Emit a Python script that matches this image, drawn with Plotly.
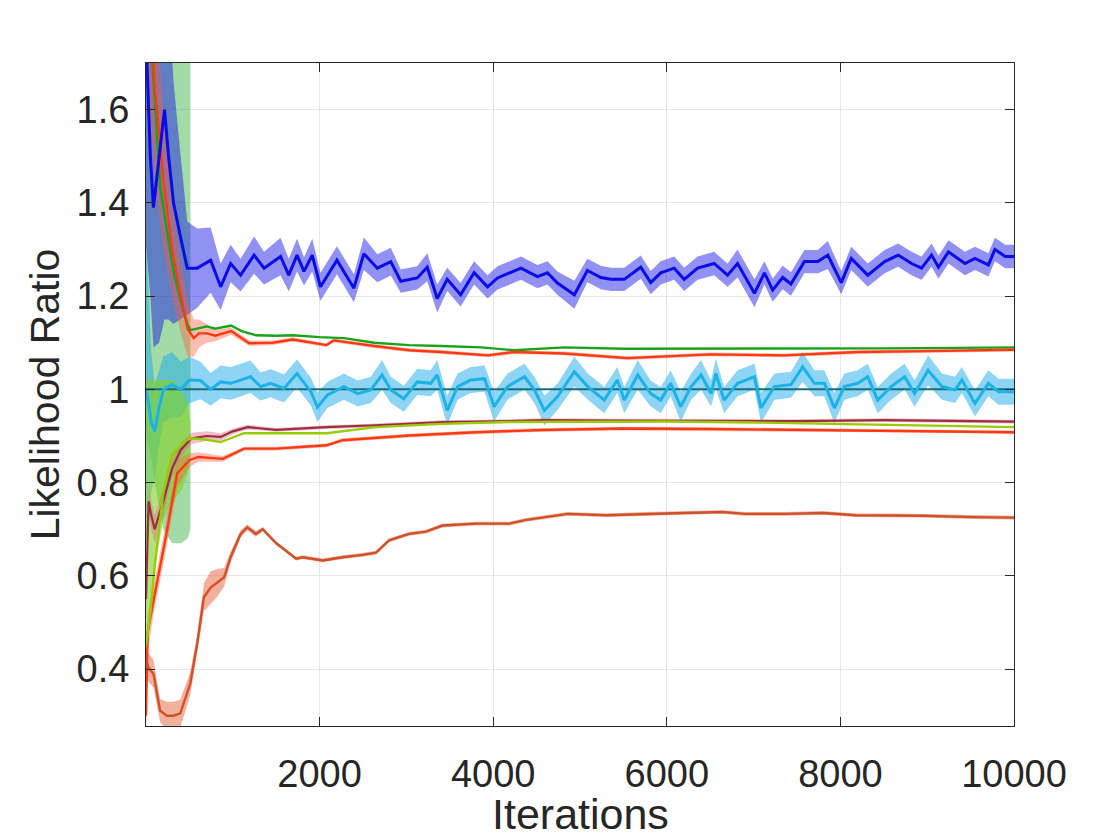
import plotly.graph_objects as go

# ---------------- data ----------------
blue_x = [0, 15, 50, 86, 150, 213, 260, 317, 394, 475, 590, 745, 860, 975, 1090, 1245, 1360, 1550, 1645, 1740,
          1820, 1915, 2010, 2200, 2395, 2510, 2665, 2820, 2935, 3125, 3240, 3355, 3470, 3625, 3780, 3935, 4050,
          4320, 4510, 4625, 4740, 4935, 5085, 5240, 5355, 5510, 5700, 5815, 5930, 6085, 6200, 6355, 6545, 6700,
          6815, 7010, 7125, 7220, 7335, 7430, 7585, 7740, 7855, 8010, 8125, 8315, 8510, 8665, 8820, 8935, 9050,
          9130, 9245, 9435, 9550, 9705, 9780, 9900, 10000]
blue_y = [1.76, 1.67, 1.50, 1.39, 1.50, 1.60, 1.50, 1.40, 1.33, 1.26, 1.26, 1.277, 1.22, 1.27, 1.245, 1.288, 1.26,
          1.285, 1.245, 1.288, 1.253, 1.288, 1.22, 1.277, 1.217, 1.291, 1.26, 1.274, 1.232, 1.239, 1.262, 1.195,
          1.236, 1.203, 1.25, 1.22, 1.239, 1.26, 1.242, 1.25, 1.228, 1.203, 1.255, 1.24, 1.236, 1.236, 1.262,
          1.229, 1.25, 1.26, 1.236, 1.26, 1.27, 1.245, 1.27, 1.206, 1.25, 1.213, 1.24, 1.226, 1.274, 1.274,
          1.288, 1.229, 1.281, 1.245, 1.274, 1.288, 1.27, 1.26, 1.288, 1.262, 1.295, 1.27, 1.281, 1.267, 1.30,
          1.285, 1.285]
blue_sd = [0.45, 0.40, 0.30, 0.30, 0.40, 0.45, 0.35, 0.26, 0.18, 0.10, 0.085, 0.07, 0.05, 0.04,
           0.035, 0.04, 0.035, 0.04, 0.035, 0.035, 0.03, 0.035, 0.03,
           0.03, 0.03, 0.035, 0.03, 0.03, 0.025, 0.025, 0.03, 0.03, 0.025,
           0.025, 0.025, 0.025, 0.025, 0.025, 0.025, 0.025, 0.025, 0.03, 0.025,
           0.025, 0.025, 0.025, 0.025, 0.025, 0.025, 0.025, 0.025, 0.025, 0.025,
           0.025, 0.03, 0.03, 0.025, 0.025, 0.025, 0.025, 0.025, 0.025, 0.03,
           0.025, 0.025, 0.025, 0.025, 0.025, 0.025, 0.025, 0.025, 0.025, 0.025,
           0.025, 0.025, 0.025, 0.025, 0.025, 0.025]

cyan_x = [0, 30, 60, 100, 150, 200, 300, 400, 500, 628, 745, 860, 975, 1090, 1205, 1320, 1435, 1590, 1740,
          1900, 1975, 2090, 2280, 2440, 2590, 2720, 2820, 2970, 3125, 3280, 3355, 3470, 3590, 3740, 3900, 4010,
          4165, 4360, 4475, 4590, 4740, 4935, 5090, 5280, 5430, 5510, 5665, 5815, 5930, 6045, 6160, 6280, 6395,
          6510, 6565, 6660, 6815, 7010, 7085, 7240, 7430, 7565, 7700, 7815, 7930, 8045, 8200, 8315, 8430, 8585,
          8740, 8855, 9010, 9170, 9320, 9400, 9550, 9705, 9820, 10000]
cyan_y = [1.00, 0.97, 0.93, 0.91, 0.96, 1.00, 1.01, 1.00, 1.02, 1.019, 1.0, 1.016, 1.013, 1.02, 1.027, 1.006,
          1.013, 1.002, 1.034, 0.995, 0.962, 0.988, 1.006, 0.991, 0.999, 1.031, 0.999, 0.98, 1.016, 1.013, 1.031,
          0.955, 1.006, 1.02, 1.023, 0.963, 1.006, 1.027, 0.999, 0.955, 0.984, 1.038, 1.006, 0.977, 1.02, 0.977,
          1.031, 0.991, 0.977, 1.013, 0.963, 1.006, 1.031, 0.991, 1.034, 0.977, 1.013, 1.027, 0.96, 1.006, 1.01,
          1.048, 1.013, 1.013, 0.96, 1.006, 1.013, 1.027, 0.977, 1.006, 1.027, 0.991, 1.041, 1.006, 0.999, 1.02,
          0.97, 1.013, 0.995, 0.995]
cyan_sd = [0.33, 0.25, 0.15, 0.10, 0.08, 0.07, 0.07, 0.06, 0.05,
           0.04, 0.035, 0.035, 0.035, 0.035, 0.035, 0.03, 0.03, 0.03, 0.03,
           0.03, 0.032, 0.028, 0.028, 0.028, 0.028, 0.032, 0.028, 0.028, 0.028,
           0.028, 0.032, 0.032, 0.028, 0.028, 0.028, 0.032, 0.028, 0.028, 0.028,
           0.032, 0.028, 0.032, 0.028, 0.028, 0.028, 0.028, 0.032, 0.028, 0.028,
           0.028, 0.032, 0.028, 0.032, 0.028, 0.032, 0.028, 0.028, 0.028, 0.032,
           0.028, 0.028, 0.032, 0.028, 0.028, 0.032, 0.028, 0.028, 0.028, 0.028,
           0.028, 0.028, 0.028, 0.032, 0.028, 0.028, 0.028, 0.028, 0.028, 0.028, 0.028]

teal_x = [0, 10000]
teal_y = [1.0, 1.0]

green_x = [0, 40, 100, 167, 250, 320, 400, 475, 513, 600, 700, 800, 980, 1100, 1270, 1500, 1690, 2000, 2280,
           2630, 3030, 3400, 3860, 4240, 4820, 5500, 6500, 7500, 8500, 9300, 10000]
green_y = [1.95, 1.80, 1.62, 1.43, 1.33, 1.25, 1.19, 1.14, 1.127, 1.13, 1.135, 1.13, 1.137, 1.125, 1.116, 1.115,
           1.116, 1.112, 1.11, 1.10, 1.095, 1.093, 1.09, 1.084, 1.09, 1.087, 1.087, 1.088, 1.088, 1.089, 1.09]
gband_x = [0, 60, 120, 200, 300, 400, 480, 512]
gband_hi = [2.6, 2.4, 2.2, 2.0, 1.9, 1.85, 1.8, 1.75]
gband_lo = [0.90, 0.85, 0.78, 0.70, 0.67, 0.67, 0.68, 0.70]

red1_x = [0, 40, 100, 200, 300, 400, 480, 550, 610, 700, 800, 980, 1190, 1460, 1690, 2080, 2160, 2630, 3030,
          3400, 3940, 4240, 4820, 5546, 6500, 7350, 8200, 9000, 10000]
red1_y = [2.0, 1.85, 1.65, 1.45, 1.30, 1.20, 1.13, 1.11, 1.12, 1.12, 1.115, 1.125, 1.099, 1.10, 1.107, 1.095,
          1.105, 1.093, 1.084, 1.08, 1.073, 1.08, 1.077, 1.067, 1.075, 1.073, 1.08, 1.082, 1.085]
red1_sd = [0.3, 0.25, 0.2, 0.15, 0.1, 0.08, 0.06, 0.04, 0.03, 0.02, 0.012, 0.008, 0.006, 0.005, 0.005, 0.004,
           0.004, 0.004, 0.004, 0.004, 0.004, 0.004, 0.004, 0.004, 0.004, 0.004, 0.004, 0.004, 0.004]

red2_x = [0, 20, 100, 225, 360, 500, 600, 885, 1130, 1500, 2080, 2265, 3030, 3800, 4570, 5500, 6500, 7500,
          8500, 9500, 10000]
red2_y = [0.30, 0.48, 0.56, 0.68, 0.82, 0.848, 0.855, 0.851, 0.873, 0.873, 0.88, 0.891, 0.901, 0.908, 0.913,
          0.916, 0.915, 0.913, 0.912, 0.91, 0.908]
red2_sd = [0.05, 0.04, 0.03, 0.03, 0.03, 0.015, 0.01, 0.006, 0.004, 0.004, 0.004, 0.004, 0.004, 0.004, 0.004,
           0.004, 0.004, 0.004, 0.004, 0.004, 0.004]

brown_x = [0, 30, 60, 100, 200, 300, 400, 525, 700, 860, 1000, 1170, 1500, 2080, 2650, 3415, 4185, 4570, 5500,
           6500, 7500, 8500, 9300, 10000]
brown_y = [0.55, 0.76, 0.73, 0.70, 0.76, 0.83, 0.87, 0.895, 0.90, 0.898, 0.91, 0.919, 0.913, 0.919, 0.923, 0.93,
           0.932, 0.934, 0.933, 0.933, 0.932, 0.934, 0.933, 0.931]
brown_sd = [0.03, 0.03, 0.03, 0.03, 0.03, 0.02, 0.015, 0.012, 0.01, 0.008, 0.006, 0.005, 0.004, 0.004, 0.004,
            0.004, 0.004, 0.004, 0.004, 0.004, 0.004, 0.004, 0.004, 0.004]

yg_x = [0, 50, 100, 200, 300, 450, 525, 700, 860, 1130, 1500, 2080, 2650, 3415, 4185, 5000, 6000, 7000, 8000,
        9000, 10000]
yg_y = [0.45, 0.52, 0.62, 0.78, 0.86, 0.89, 0.895, 0.892, 0.887, 0.906, 0.906, 0.906, 0.919, 0.926, 0.93, 0.931,
        0.931, 0.929, 0.926, 0.923, 0.919]
lband_x = [0, 50, 100, 200, 300, 400, 480, 515]
lband_hi = [1.02, 1.02, 1.02, 1.02, 1.02, 1.0, 0.97, 0.93]
lband_lo = [0.40, 0.50, 0.62, 0.72, 0.76, 0.78, 0.82, 0.86]

orange_x = [0, 30, 86, 163, 240, 320, 395, 510, 590, 667, 745, 820, 900, 975, 1090, 1167, 1265, 1345, 1500, 1730,
            1805, 2035, 2265, 2495, 2650, 2800, 3030, 3225, 3415, 3800, 4185, 4380, 4860, 5300, 5750, 6200, 6640,
            6900, 7370, 7800, 8180, 8600, 8950, 9530, 10000]
orange_y = [0.42, 0.403, 0.39, 0.311, 0.30, 0.30, 0.305, 0.369, 0.455, 0.554, 0.575, 0.585, 0.597, 0.64, 0.69,
            0.704, 0.69, 0.70, 0.67, 0.637, 0.64, 0.633, 0.64, 0.645, 0.65, 0.676, 0.69, 0.695, 0.708, 0.712,
            0.712, 0.72, 0.733, 0.73, 0.733, 0.735, 0.737, 0.733, 0.733, 0.735, 0.73, 0.73, 0.729, 0.726, 0.725]
orange_sd = [0.03, 0.03, 0.03, 0.025, 0.03, 0.03, 0.03, 0.025, 0.02, 0.03, 0.035, 0.03, 0.02, 0.012, 0.008,
             0.006, 0.006, 0.005, 0.004, 0.004, 0.004, 0.004, 0.004, 0.004, 0.004, 0.004, 0.004, 0.004, 0.004,
             0.004, 0.004, 0.004, 0.004, 0.004, 0.004, 0.004, 0.004, 0.004, 0.004, 0.004, 0.004, 0.004, 0.004,
             0.004, 0.004]

x_ticks = [2000, 4000, 6000, 8000, 10000]
x_tick_text = ["2000", "4000", "6000", "8000", "10000"]
y_ticks = [0.4, 0.6, 0.8, 1.0, 1.2, 1.4, 1.6]
y_tick_text = ["0.4", "0.6", "0.8", "1", "1.2", "1.4", "1.6"]
x_title = "Iterations"
y_title = "Likelihood Ratio"

# ---------------- figure ----------------
fig = go.Figure()


def band_lohi(x, lo, hi, color):
    fig.add_trace(go.Scatter(x=list(x) + list(x)[::-1], y=list(hi) + list(lo)[::-1], fill="toself",
                             fillcolor=color, line=dict(width=0), mode="lines", hoverinfo="skip",
                             showlegend=False))


def band_sd(x, y, sd, color):
    hi = [a + s for a, s in zip(y, sd)]
    lo = [a - s for a, s in zip(y, sd)]
    band_lohi(x, lo, hi, color)


def line(x, y, color, w):
    fig.add_trace(go.Scatter(x=x, y=y, mode="lines", line=dict(color=color, width=w), showlegend=False))


band_lohi(gband_x, gband_lo, gband_hi, "rgba(60,180,70,0.48)")
band_sd(blue_x, blue_y, blue_sd, "rgba(25,25,230,0.48)")
band_sd(cyan_x, cyan_y, cyan_sd, "rgba(30,170,235,0.5)")
band_lohi(lband_x, lband_lo, lband_hi, "rgba(130,210,40,0.62)")
band_sd(red1_x, red1_y, red1_sd, "rgba(255,90,60,0.4)")
band_sd(red2_x, red2_y, red2_sd, "rgba(255,90,60,0.4)")
band_sd(brown_x, brown_y, brown_sd, "rgba(220,110,140,0.45)")
band_sd(orange_x, orange_y, orange_sd, "rgba(230,100,60,0.5)")

line(teal_x, teal_y, "#15707c", 2)
line(green_x, green_y, "#1aa21a", 2.4)
line(red1_x, red1_y, "#ff3a12", 2.4)
line(red2_x, red2_y, "#ff3a12", 2.4)
line(brown_x, brown_y, "#9c2f3e", 2.2)
line(yg_x, yg_y, "#9acb00", 2.4)
line(orange_x, orange_y, "#d0502a", 2.4)
line(cyan_x, cyan_y, "#1cb2e6", 3)
line(blue_x, blue_y, "#0b0be8", 3)

font_family = "Liberation Sans, Arial, sans-serif"
axis_color = "#262626"
fig.update_layout(
    width=1120, height=840,
    margin=dict(l=138, r=114, t=55, b=122),
    paper_bgcolor="white", plot_bgcolor="white",
    font=dict(family=font_family, color=axis_color, size=38),
    showlegend=False,
)
fig.update_xaxes(
    range=[0, 10000], tickvals=x_ticks, ticktext=x_tick_text, ticks="inside", ticklen=9, tickcolor=axis_color,
    showline=True, linecolor=axis_color, linewidth=1, mirror="ticks",
    showgrid=True, gridcolor="#e6e6e6", gridwidth=1, zeroline=False,
    tickfont=dict(size=38, family=font_family, color=axis_color), ticklabelstandoff=14,
)
fig.update_yaxes(
    range=[0.278, 1.70], tickvals=y_ticks, ticktext=y_tick_text, ticks="inside", ticklen=9,
    tickcolor=axis_color, showline=True, linecolor=axis_color, linewidth=1, mirror="ticks",
    showgrid=True, gridcolor="#e6e6e6", gridwidth=1, zeroline=False,
    tickfont=dict(size=38, family=font_family, color=axis_color), ticklabelstandoff=8,
    title=dict(text=y_title, font=dict(size=41, family=font_family, color=axis_color), standoff=4),
)
fig.add_annotation(text=x_title, xref="paper", yref="paper", x=0.5, y=-0.093, xanchor="center",
                   yanchor="top", showarrow=False,
                   font=dict(size=43, family=font_family, color=axis_color))

fig.write_html("out.html")
